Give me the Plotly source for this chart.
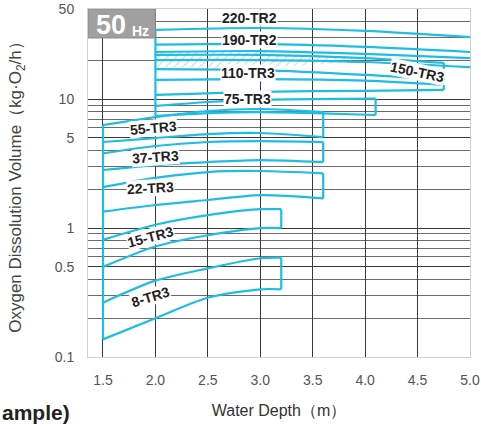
import math
import plotly.graph_objects as go

# Operating ranges of each aerator model (50 Hz): oxygen dissolution volume
# (kg-O2/h) at the upper and lower limit for each water depth (m).
d_8 = [1.5, 2.0, 2.5, 3.0, 3.2]
top_8 = [0.264, 0.391, 0.487, 0.583, 0.589]
bot_8 = [0.137, 0.200, 0.288, 0.335, 0.335]

d_15 = [1.5, 2.0, 2.5, 3.0, 3.2]
top_15 = [0.81, 1.06, 1.26, 1.40, 1.40]
bot_15 = [0.50, 0.72, 0.88, 1.00, 1.00]

d_22 = [1.5, 2.0, 2.5, 3.0, 3.6]
top_22 = [2.08, 2.45, 2.72, 2.77, 2.66]
bot_22 = [1.34, 1.51, 1.65, 1.80, 1.70]

d_37 = [1.5, 2.0, 2.5, 3.0, 3.6]
top_37 = [3.80, 4.33, 4.65, 4.73, 4.65]
bot_37 = [2.82, 3.08, 3.25, 3.37, 3.25]

d_55 = [1.5, 2.0, 2.5, 3.0, 3.6]
top_55 = [6.30, 7.26, 8.09, 8.38, 7.94]
bot_55 = [4.65, 4.99, 5.36, 5.46, 5.08]

d_75 = [2.0, 2.5, 3.0, 3.5, 4.1]
top_75 = [8.85, 9.50, 9.85, 10.0, 10.1]
bot_75 = [7.40, 7.80, 7.94, 7.80, 7.53]

d_110 = [2.0, 3.0, 4.0, 4.75]
top_110 = [14.1, 14.3, 13.9, 12.9]
bot_110 = [10.8, 11.4, 11.6, 11.8]

d_150 = [2.0, 3.0, 4.0, 4.75]
top_150 = [22.0, 22.0, 20.8, 19.1]
bot_150 = [17.1, 16.8, 15.4, 14.1]

d_190 = [2.0, 3.0, 4.0, 5.0]
top_190 = [23.2, 23.6, 22.4, 20.8]
bot_190 = [20.1, 20.1, 19.4, 17.7]

d_220 = [2.0, 3.0, 4.0, 5.0]
top_220 = [34.4, 35.6, 33.8, 30.3]
bot_220 = [26.5, 26.8, 25.4, 23.2]

# shaded strip inside the 150-TR3 range
d_hatch = [2.0, 3.0, 3.9]
top_hatch = [23.2, 23.2, 20.8]
bot_hatch = [17.7, 17.4, 19.4]

models = [
    ("8-TR3", d_8, top_8, bot_8),
    ("15-TR3", d_15, top_15, bot_15),
    ("22-TR3", d_22, top_22, bot_22),
    ("37-TR3", d_37, top_37, bot_37),
    ("55-TR3", d_55, top_55, bot_55),
    ("75-TR3", d_75, top_75, bot_75),
    ("110-TR3", d_110, top_110, bot_110),
    ("150-TR3", d_150, top_150, bot_150),
    ("190-TR2", d_190, top_190, bot_190),
    ("220-TR2", d_220, top_220, bot_220),
]

# label placement: (depth, kg-O2/h, rotation)
label_pos = {
    "220-TR2": (2.90, 42.6, 0),
    "190-TR2": (2.90, 28.7, 0),
    "110-TR3": (2.88, 15.9, 0),
    "75-TR3": (2.88, 10.0, 0),
    "150-TR3": (4.50, 16.2, 12),
    "55-TR3": (1.98, 5.97, -5),
    "37-TR3": (2.00, 3.56, -4),
    "22-TR3": (1.95, 2.05, -3),
    "15-TR3": (1.95, 0.852, -15),
    "8-TR3": (1.95, 0.292, -17),
}

x_ticks = [1.5, 2.0, 2.5, 3.0, 3.5, 4.0, 4.5, 5.0]
y_ticks = [0.1, 0.5, 1, 5, 10, 50]
y_ticktext = ["0.1", "0.5", "1", "5", "10", "50"]
y_minor = [0.2, 0.3, 0.4, 0.6, 0.7, 0.8, 0.9, 2, 3, 4, 6, 7, 8, 9, 20, 30, 40]

X_MIN, X_MAX = 1.357, 5.0
CYAN = "#1fbde3"
FONT = "Liberation Sans, Arial, sans-serif"

fig = go.Figure()

# hatched strip
fig.add_trace(go.Scatter(
    x=d_hatch + d_hatch[::-1] + [d_hatch[0]],
    y=top_hatch + bot_hatch[::-1] + [top_hatch[0]],
    mode="lines", line=dict(width=0), fill="toself",
    fillcolor="rgba(255,255,255,0)",
    fillpattern=dict(shape="/", fgcolor="#b0b0b0", bgcolor="rgba(255,255,255,0)",
                     size=6, solidity=0.2),
    hoverinfo="skip", showlegend=False,
))

for name, d, top, bot in models:
    # upper limit, lower limit and (if inside the chart) the deepest-depth side
    xs = d + [None] + d
    ys = top + [None] + bot
    if d[-1] < X_MAX:
        xs += [None, d[-1], d[-1]]
        ys += [None, top[-1], bot[-1]]
    fig.add_trace(go.Scatter(
        x=xs, y=ys, mode="lines", name=name,
        line=dict(color=CYAN, width=2.2, shape="spline", smoothing=0.8),
        connectgaps=False, showlegend=False, hoverinfo="skip",
    ))

# shared shallow-depth sides of the model groups
for start in sorted({m[1][0] for m in models}):
    group = [m for m in models if m[1][0] == start]
    lo = min(m[3][0] for m in group)
    hi = max(m[2][0] for m in group)
    fig.add_trace(go.Scatter(x=[start, start], y=[lo, hi], mode="lines",
                             line=dict(color=CYAN, width=2.2),
                             showlegend=False, hoverinfo="skip"))

for name, (lx, ly, ang) in label_pos.items():
    fig.add_annotation(
        x=lx, y=math.log10(ly), text=f"<b>{name}</b>", showarrow=False,
        textangle=ang, bgcolor="white", borderpad=0,
        font=dict(family=FONT, size=14, color="#222"),
    )

# 50 Hz badge
fig.add_shape(type="rect", xref="x", yref="y", x0=X_MIN, x1=2.0, y0=29.8, y1=50,
              fillcolor="#a0a0a0", line=dict(color="#8a8a8a", width=1), layer="above")
fig.add_annotation(x=1.576, y=math.log10(37.5), text="<b>50</b>", showarrow=False,
                   font=dict(family=FONT, size=27, color="white"))
fig.add_annotation(x=1.862, y=math.log10(33.8), text="<b>Hz</b>", showarrow=False,
                   font=dict(family=FONT, size=14, color="white"))

fig.add_annotation(xref="paper", yref="paper", x=-88 / 382, y=-55 / 348,
                   xanchor="left", yanchor="middle", text="<b>ample)</b>", showarrow=False,
                   font=dict(family=FONT, size=21, color="#222"))

fig.update_xaxes(
    range=[X_MIN, X_MAX], tickvals=x_ticks, ticktext=[f"{v:.1f}" for v in x_ticks],
    showgrid=True, gridcolor="#3a3a3a", gridwidth=1.4, zeroline=False,
    showline=True, linecolor="#d0d0d0", linewidth=1, mirror=True,
    ticks="", ticklabelstandoff=10, automargin=False,
    tickfont=dict(family=FONT, size=14, color="#555"),
    title=dict(text="Water Depth（m）", standoff=18,
               font=dict(family=FONT, size=16, color="#333")),
)
fig.update_yaxes(
    type="log", range=[-1, math.log10(50)], tickvals=y_ticks, ticktext=y_ticktext,
    showgrid=True, gridcolor="#3a3a3a", gridwidth=1.4, zeroline=False,
    showline=True, linecolor="#d0d0d0", linewidth=1, mirror=True,
    ticks="", ticklabelstandoff=10, automargin=False,
    minor=dict(tickvals=y_minor, showgrid=True, gridcolor="#6a6a6a", gridwidth=1, ticks=""),
    tickfont=dict(family=FONT, size=14, color="#555"),
    title=dict(text="Oxygen Dissolution Volume（kg·O<sub>2</sub>/h）", standoff=28,
               font=dict(family=FONT, size=17, color="#444")),
)

fig.update_layout(
    width=481, height=429,
    margin=dict(l=88, r=11, t=9, b=72),
    paper_bgcolor="white", plot_bgcolor="white",
    showlegend=False,
)

fig.write_html("out.html")
